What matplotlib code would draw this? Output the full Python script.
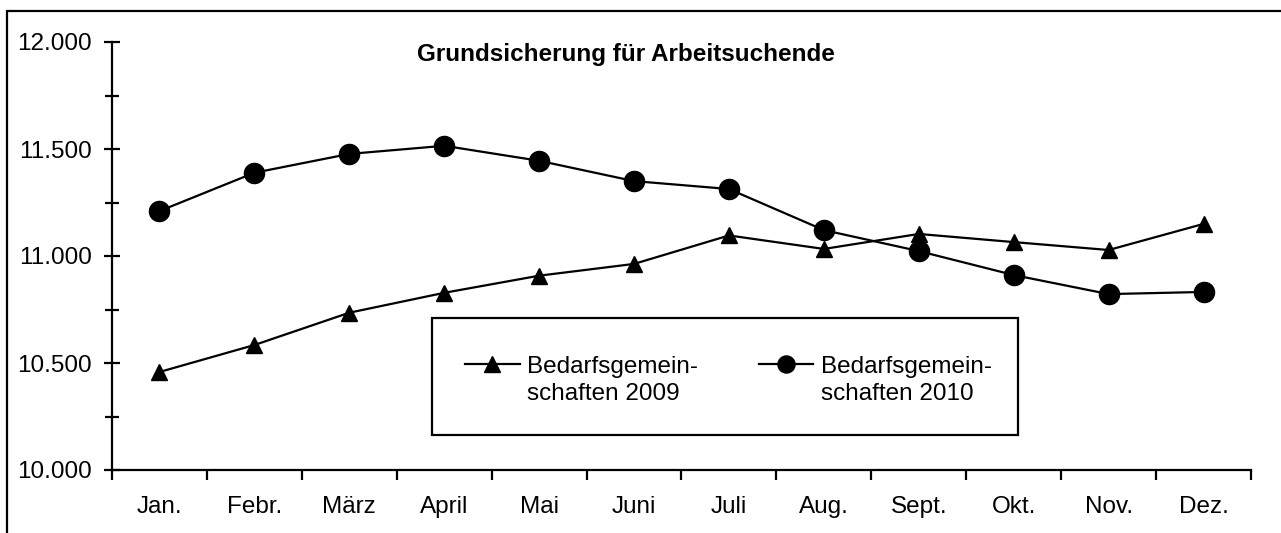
import matplotlib
matplotlib.use("Agg")
import matplotlib.pyplot as plt
import numpy as np
from matplotlib.patches import Rectangle
from matplotlib.ticker import MultipleLocator, FuncFormatter, FixedLocator

plt.rcParams['font.family'] = ['Liberation Sans', 'DejaVu Sans']

months = ["Jan.", "Febr.", "März", "April", "Mai", "Juni", "Juli", "Aug.",
          "Sept.", "Okt.", "Nov.", "Dez."]
bg_2009 = [10458, 10584, 10735, 10828, 10908, 10963, 11096, 11033, 11103, 11065, 11028, 11150]
bg_2010 = [11210, 11389, 11477, 11515, 11445, 11350, 11313, 11121, 11023, 10911, 10822, 10832]
label_2009 = "Bedarfsgemein-\nschaften 2009"
label_2010 = "Bedarfsgemein-\nschaften 2010"
title = "Grundsicherung für Arbeitsuchende"

W, H = 1281, 533
fig = plt.figure(figsize=(W / 100, H / 100), dpi=100)
ax = fig.add_axes([112 / W, 1 - 470 / H, 1139 / W, 428 / H])

x = list(range(1, len(months) + 1))
l1, = ax.plot(x, bg_2009, color='black', lw=1.6, marker='^', markersize=12,
              clip_on=False, zorder=3)
l2, = ax.plot(x, bg_2010, color='black', lw=1.6, marker='o', markersize=14.5,
              clip_on=False, zorder=3)

ax.set_xlim(0.5, len(months) + 0.5)
ax.set_ylim(10000, 12000)

for s in ['top', 'right']:
    ax.spines[s].set_visible(False)
for s in ['left', 'bottom']:
    ax.spines[s].set_linewidth(1.6)

fs = 17.5
ax.yaxis.set_major_locator(MultipleLocator(500))
ax.yaxis.set_minor_locator(MultipleLocator(250))
ax.yaxis.set_major_formatter(FuncFormatter(lambda v, p: f"{int(v):,}".replace(",", ".")))
ax.tick_params(axis='y', which='major', direction='inout', length=12, width=1.6,
               labelsize=fs, pad=8.5)
ax.tick_params(axis='y', which='minor', direction='inout', length=9.5, width=1.6)

ax.xaxis.set_major_locator(FixedLocator([i + 0.5 for i in range(0, len(months) + 1)]))
ax.xaxis.set_minor_locator(FixedLocator(x))
ax.xaxis.set_major_formatter(FuncFormatter(lambda v, p: ""))
ax.set_xticks(x, months, minor=True)
ax.tick_params(axis='x', which='major', direction='out', length=7, width=1.6)
ax.tick_params(axis='x', which='minor', length=0, labelsize=fs, pad=18.5)

fig.text(626 / W, 1 - 54.5 / H, title, ha='center', va='center',
         fontsize=fs, fontweight='bold')

# legend box
fig.patches.append(Rectangle((432 / W, 1 - 435 / H), (1018 - 432) / W, (435 - 318) / H,
                             transform=fig.transFigure, fill=False,
                             edgecolor='black', lw=1.6))
leg = fig.legend([l1, l2], [label_2009, label_2010], ncol=2, frameon=False,
                 loc='center left', bbox_to_anchor=(465 / W, 1 - 380.5 / H),
                 fontsize=fs, handlelength=2.25, handletextpad=0.3,
                 columnspacing=2.5, borderpad=0, borderaxespad=0)
for t in leg.get_texts():
    t.set_linespacing(1.32)
hl = leg.legend_handles
hl[0].set_markersize(12)
hl[1].set_markersize(12.3)
for h in hl:
    yd = np.asarray(h.get_ydata(), dtype=float)
    h.set_ydata(yd + 12.0)

# outer frame
fig.patches.append(Rectangle((7 / W, -0.1), 1.2, 1 - 11 / H + 0.1,
                             transform=fig.transFigure, fill=False,
                             edgecolor='black', lw=1.6))

fig.savefig("out.png", dpi=100)
